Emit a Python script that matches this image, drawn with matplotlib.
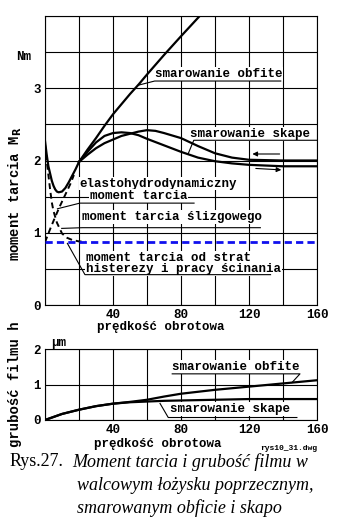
#- Friction moment and film thickness in a cylindrical roller bearing,
#  abundant vs. scarce lubrication (redrawn from rys10_31.dwg).

import numpy as np
import matplotlib
matplotlib.use("Agg")
import matplotlib.pyplot as plt


#- Data:  speed (x) and friction moment / film thickness.

# total moment at low speed (common part of all curves)
v_total = [0, 1, 2, 3, 4, 5, 6, 7, 8, 10, 12, 14, 16, 18, 20]
m_total = [2.27, 2.08, 1.92, 1.82, 1.72, 1.65, 1.6, 1.57, 1.56, 1.57, 1.62,
           1.7, 1.79, 1.88, 1.98]

# abundant lubrication
v_obfite = [20, 25, 30, 35, 40, 45, 50, 55, 60, 70, 80, 91]
m_obfite = [1.98, 2.15, 2.31, 2.48, 2.64, 2.78, 2.92, 3.05, 3.19, 3.46,
            3.72, 4.0]

# scarce lubrication, two branches (speed rising / falling)
v_skape_a = [20, 25, 30, 35, 40, 45, 50, 55, 60, 70, 80, 90, 100, 110, 120,
             140, 160]
m_skape_a = [1.98, 2.12, 2.25, 2.34, 2.38, 2.39, 2.38, 2.35, 2.3, 2.21,
             2.12, 2.04, 1.99, 1.96, 1.94, 1.92, 1.92]
v_skape_b = [20, 25, 30, 35, 40, 45, 50, 55, 60, 65, 70, 80, 90, 100, 110,
             120, 140, 160]
m_skape_b = [1.98, 2.08, 2.17, 2.24, 2.29, 2.34, 2.37, 2.4, 2.42, 2.41,
             2.38, 2.31, 2.2, 2.1, 2.04, 2.01, 2.0, 2.0]

# components (dashed)
v_ehd = [0, 3, 6, 9, 12, 15, 17]
m_ehd = [0.87, 1.05, 1.22, 1.38, 1.53, 1.68, 1.8]
v_slide = [0, 1, 2, 3, 4, 5, 7, 10, 13, 16, 20, 24]
m_slide = [2.22, 2.0, 1.8, 1.6, 1.42, 1.3, 1.14, 0.99, 0.93, 0.9, 0.88,
           0.875]
v_hist = [0, 160]
m_hist = [0.875, 0.875]

# film thickness
v_h = [0, 10, 20, 30, 40, 50, 60, 70, 80, 100, 120, 140, 160]
h_obfite = [0, 0.17, 0.29, 0.39, 0.46, 0.51, 0.57, 0.66, 0.74, 0.85,
            0.94, 1.03, 1.12]
h_skape = [0, 0.17, 0.29, 0.39, 0.46, 0.5, 0.52, 0.54, 0.55, 0.57,
           0.59, 0.59, 0.59]

x_ticks = [40, 80, 120, 160]


#- Style:

mono = "Liberation Mono"
fs = 9.0
fs_axis = 10.0
lw_curve = 1.6
lw_thin = 0.8
box = dict(facecolor="white", edgecolor="none", pad=0.6)

plt.rcParams["font.family"] = [mono, "DejaVu Sans"]
plt.rcParams["font.weight"] = "bold"

fig = plt.figure(figsize=(3.51, 5.26), dpi=100)

W, H = 351.0, 526.0
ax1 = fig.add_axes([45 / W, 1 - 305 / H, 272 / W, 289 / H])
ax2 = fig.add_axes([45 / W, 1 - 420 / H, 272 / W, 71 / H])

for ax in (ax1, ax2):
    ax.set_xlim(0, 160)
    ax.set_xticks(np.arange(0, 161, 20))
    ax.set_xticklabels(["" if t not in x_ticks else str(t)
                        for t in range(0, 161, 20)], fontsize=fs,
                       fontweight="bold")
    ax.tick_params(length=0, pad=3)
    ax.grid(True, color="black", lw=lw_thin)
    ax.set_axisbelow(True)
    for s in ax.spines.values():
        s.set_linewidth(lw_thin)


#- Top plot: friction moment

ax1.set_ylim(0, 4)
ax1.set_yticks(np.arange(0, 4.01, 0.5))
ax1.set_yticklabels(["0", "", "1", "", "2", "", "3", "", ""], fontsize=fs,
                    fontweight="bold")

ax1.plot(v_total, m_total, color="black", lw=lw_curve, zorder=5)
ax1.plot(v_obfite, m_obfite, color="black", lw=lw_curve, zorder=5)
ax1.plot(v_skape_a, m_skape_a, color="black", lw=lw_curve, zorder=5)
ax1.plot(v_skape_b, m_skape_b, color="black", lw=lw_curve, zorder=5)
ax1.plot(v_ehd, m_ehd, color="black", lw=1.4, ls=(0, (3, 2)), zorder=5)
ax1.plot(v_slide, m_slide, color="black", lw=1.4, ls=(0, (3, 2)), zorder=5)
ax1.plot(v_hist, m_hist, color="#1010ee", lw=2.0, ls=(0, (2.6, 1.5)),
         zorder=6)

# direction arrows on the scarce branches
ax1.annotate("", xy=(122, 2.09), xytext=(138, 2.09),
             arrowprops=dict(arrowstyle="-|>", lw=lw_thin, color="black",
                             mutation_scale=7, shrinkA=0, shrinkB=0))
ax1.annotate("", xy=(139, 1.87), xytext=(124, 1.89),
             arrowprops=dict(arrowstyle="-|>", lw=lw_thin, color="black",
                             mutation_scale=7, shrinkA=0, shrinkB=0))


def label(ax, x, y, s, ha="left"):
    ax.text(x, y, s, fontsize=fs, fontweight="bold", ha=ha, va="center",
            bbox=box, zorder=4)


def leader(ax, xs, ys):
    ax.plot(xs, ys, color="black", lw=lw_thin, zorder=4,
            solid_capstyle="butt")


label(ax1, 64.5, 3.2, "smarowanie obfite")
leader(ax1, [54.5, 64.5, 139], [3.04, 3.1, 3.1])

label(ax1, 85, 2.37, "smarowanie skape")
leader(ax1, [84, 87.5, 160], [2.08, 2.28, 2.28])

label(ax1, 20.5, 1.68, "elastohydrodynamiczny")
label(ax1, 26.5, 1.505, "moment tarcia")
leader(ax1, [7, 20.5, 88], [1.33, 1.41, 1.41])

label(ax1, 22, 1.215, "moment tarcia ślizgowego")
leader(ax1, [9.5, 22, 127], [1.06, 1.07, 1.07])

label(ax1, 24, 0.655, "moment tarcia od strat")
label(ax1, 24, 0.5, "histerezy i pracy ścinania")
leader(ax1, [13, 23.5, 133], [0.86, 0.42, 0.42])

fig.text(24 / W, 1 - 57 / H, "Nm", fontsize=fs, fontweight="bold",
         ha="center", va="center")
fig.text(15 / W, 1 - 194 / H, r"moment tarcia M$_{\mathbf{R}}$",
         fontsize=fs_axis, fontweight="bold", rotation=90, ha="center",
         va="center")
fig.text(161 / W, 1 - 327 / H, "prędkość obrotowa", fontsize=fs,
         fontweight="bold", ha="center", va="center")


#- Bottom plot: film thickness

ax2.set_ylim(0, 2)
ax2.set_yticks([0, 1, 2])
ax2.set_yticklabels(["0", "1", "2"], fontsize=fs, fontweight="bold")

ax2.plot(v_h, h_obfite, color="black", lw=lw_curve, zorder=5)
ax2.plot(v_h, h_skape, color="black", lw=lw_curve, zorder=5)

label(ax2, 74.5, 1.5, "smarowanie obfite")
leader(ax2, [145, 150, 74.5], [1.04, 1.3, 1.3])
label(ax2, 73.5, 0.3, "smarowanie skape")
leader(ax2, [67.5, 72.5, 148.5], [0.48, 0.07, 0.07])

fig.text(59 / W, 1 - 343 / H, "μm", fontsize=fs, fontweight="bold",
         ha="center", va="center")
fig.text(15 / W, 1 - 384 / H, "grubość filmu h", fontsize=fs_axis,
         fontweight="bold", rotation=90, ha="center", va="center")
fig.text(158 / W, 1 - 444 / H, "prędkość obrotowa", fontsize=fs,
         fontweight="bold", ha="center", va="center")
fig.text(317 / W, 1 - 448 / H, "rys10_31.dwg", fontsize=5.8,
         fontweight="bold", ha="right", va="center")


#- Caption

serif = "Liberation Serif"
cap = 13
fig.text(10 / W, 1 - 462 / H, "Rys.27.", family=serif, fontsize=cap,
         fontweight="normal", va="center")
fig.text(72 / W, 1 - 462 / H, "Moment tarcia i grubość filmu w",
         family=serif, style="italic", fontsize=cap, fontweight="normal",
         va="center")
fig.text(77 / W, 1 - 485 / H, "walcowym łożysku poprzecznym,",
         family=serif, style="italic", fontsize=cap, fontweight="normal",
         va="center")
fig.text(77 / W, 1 - 508 / H, "smarowanym obficie i skapo",
         family=serif, style="italic", fontsize=cap, fontweight="normal",
         va="center")

fig.savefig("out.png", dpi=100)
